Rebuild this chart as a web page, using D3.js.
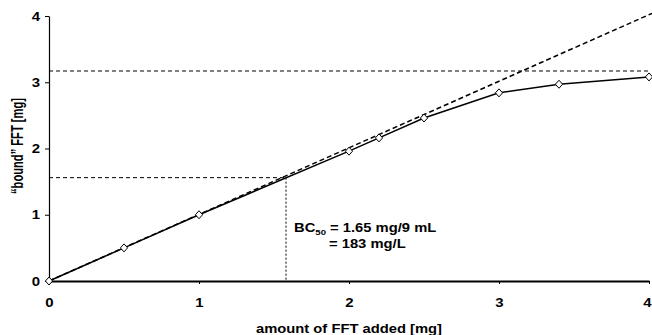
<!DOCTYPE html>
<html><head><meta charset="utf-8">
<script src="https://cdn.jsdelivr.net/npm/d3@7"></script>
<style>body{margin:0;background:#fff}svg{display:block}text{font-family:"Liberation Sans",Arial,sans-serif;font-weight:bold}</style>
</head><body>
<script>
const added = [0, 0.5, 1, 2, 2.2, 2.5, 3, 3.4, 4];
const bound = [0, 0.5, 1, 1.96, 2.16, 2.46, 2.84, 2.97, 3.08];
const xTicks = [0, 1, 2, 3, 4];
const yTicks = [0, 1, 2, 3, 4];
const plateau = 3.17;
const halfBound = 1.56;
const bc50X = 1.58;
const idealSlope = 1.005;
const idealEnd = 4.02;

const W = 652, H = 335, SX = 1.2;
const svg = d3.select("body").append("svg").attr("width", W).attr("height", H);
const x = d3.scaleLinear().domain([0, 4]).range([49, 649]);
const y = d3.scaleLinear().domain([0, 4]).range([281, 16]);

// reference lines
svg.append("line").attr("x1", x(0)).attr("x2", x(4)).attr("y1", y(plateau)).attr("y2", y(plateau))
  .attr("stroke", "#000").attr("stroke-width", 1).attr("stroke-dasharray", "4,3");
svg.append("line").attr("x1", x(0)).attr("x2", x(bc50X)).attr("y1", y(halfBound)).attr("y2", y(halfBound))
  .attr("stroke", "#000").attr("stroke-width", 1).attr("stroke-dasharray", "4,3");
svg.append("line").attr("x1", x(bc50X)).attr("x2", x(bc50X)).attr("y1", y(halfBound)).attr("y2", y(0))
  .attr("stroke", "#000").attr("stroke-width", 1).attr("stroke-dasharray", "2,2");
svg.append("line").attr("x1", x(0)).attr("x2", x(idealEnd)).attr("y1", y(0)).attr("y2", y(idealEnd*idealSlope))
  .attr("stroke", "#000").attr("stroke-width", 1.5).attr("stroke-dasharray", "5,3");

// axes
const xAxis = d3.axisBottom(x).tickValues(xTicks).tickFormat(d3.format("d")).tickSize(3).tickSizeOuter(0).tickPadding(14);
const gx = svg.append("g").attr("transform", `translate(0,${y(0)})`).call(xAxis);
gx.select(".domain").attr("stroke-width", 2);
const yAxis = d3.axisLeft(y).tickValues(yTicks).tickFormat(d3.format("d")).tickSize(4).tickSizeOuter(0).tickPadding(5);
const gy = svg.append("g").attr("transform", `translate(${x(0)},0)`).call(yAxis);
gy.select(".domain").attr("stroke-width", 1.2);
svg.selectAll(".tick text").attr("font-size", 12.5).attr("font-family", "Liberation Sans, Arial, sans-serif").attr("font-weight", "bold").attr("fill", "#000")
  .each(function(d) {
    const t = d3.select(this);
    let tx = +t.attr("x") || 0;
    if (this.parentNode.parentNode === gx.node() && d === 4) tx -= 2;
    t.attr("x", 0).attr("transform", `translate(${tx},0) scale(${SX},1)`);
  });

// data line
const pts = added.map((d, i) => [d, bound[i]]);
svg.append("path").datum(pts)
  .attr("d", d3.line().x(d => x(d[0])).y(d => y(d[1])))
  .attr("fill", "none").attr("stroke", "#000").attr("stroke-width", 1.5);
svg.selectAll(".pt").data(pts).enter().append("path")
  .attr("transform", d => `translate(${x(d[0])},${y(d[1])})`)
  .attr("d", "M0,-4L3.6,0L0,4L-3.6,0Z")
  .attr("fill", "#fff").attr("stroke", "#000").attr("stroke-width", 1);

// labels
svg.append("text").attr("x", 349).attr("y", 333).attr("text-anchor", "middle").attr("font-size", 12.5)
  .attr("textLength", 186).attr("lengthAdjust", "spacingAndGlyphs").text("amount of FFT added [mg]");
svg.append("text").attr("transform", `translate(22.5,146) scale(${SX},1) rotate(-90)`).attr("text-anchor", "middle").attr("font-size", 13.5)
  .attr("textLength", 96).attr("lengthAdjust", "spacingAndGlyphs").text("\u201cbound\u201d FFT [mg]");

const t1 = svg.append("text").attr("transform", `translate(294,232) scale(${SX},1)`).attr("font-size", 12.3);
t1.append("tspan").text("BC");
t1.append("tspan").attr("font-size", 8).attr("dy", 3).text("50");
t1.append("tspan").attr("dy", -3).text(" = 1.65 mg/9 mL");
svg.append("text").attr("transform", `translate(329,248) scale(${SX},1)`).attr("font-size", 12.3).text("= 183 mg/L");
</script>
</body></html>
